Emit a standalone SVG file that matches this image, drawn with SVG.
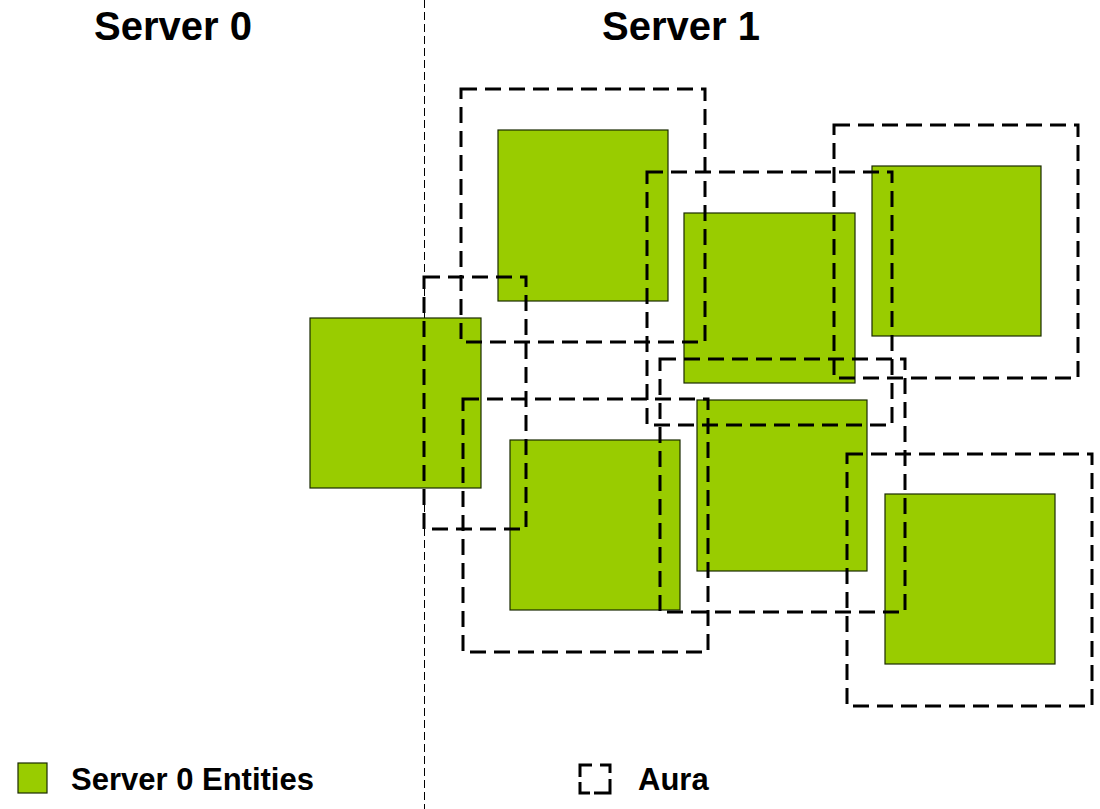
<svg xmlns="http://www.w3.org/2000/svg" width="1100" height="809" viewBox="0 0 1100 809">
<style>
.ent{fill:#99cc00;stroke:#1a2a00;stroke-width:1.2}
.aura{fill:none;stroke:#000;stroke-width:3;stroke-dasharray:16 8}
.title{font-family:"Liberation Sans",Arial,sans-serif;font-weight:bold;font-size:40px;fill:#000;text-anchor:middle}
.leg{font-family:"Liberation Sans",Arial,sans-serif;font-weight:bold;font-size:31px;fill:#000}
.div{stroke:#000;stroke-width:1;stroke-dasharray:8 4;fill:none}
</style>
<rect width="1100" height="809" fill="#fff"/>
<g id="divider"><line class="div" x1="424.5" y1="0" x2="424.5" y2="809"/></g>
<g id="titles">
<text class="title" x="173" y="40">Server 0</text>
<text class="title" x="681" y="40">Server 1</text>
</g>
<g id="entities">
<g id="entity1"><rect class="ent" x="498" y="130" width="170" height="171"/></g>
<g id="entity2"><rect class="ent" x="684" y="213" width="171" height="170"/></g>
<g id="entity3"><rect class="ent" x="872" y="166" width="169" height="170"/></g>
<g id="entity4"><rect class="ent" x="310" y="318" width="171" height="170"/></g>
<g id="entity5"><rect class="ent" x="510" y="440" width="170" height="170"/></g>
<g id="entity6"><rect class="ent" x="697" y="400" width="170" height="171"/></g>
<g id="entity7"><rect class="ent" x="885" y="494" width="170" height="170"/></g>
</g>
<g id="auras">
<g id="aura1"><rect class="aura" x="461" y="89" width="244" height="253"/></g>
<g id="aura4"><rect class="aura" x="424" y="277" width="102" height="252"/></g>
<g id="aura2"><rect class="aura" x="647" y="172" width="245" height="253"/></g>
<g id="aura3"><rect class="aura" x="834" y="125" width="244" height="253"/></g>
<g id="aura5"><rect class="aura" x="463" y="399" width="245" height="253"/></g>
<g id="aura6"><rect class="aura" x="660" y="359" width="245" height="253"/></g>
<g id="aura7"><rect class="aura" x="847" y="454" width="245" height="252"/></g>
</g>
<g id="legend">
<g id="legend-entities">
<rect class="ent" x="18" y="763" width="29" height="30"/>
<text class="leg" x="71" y="790">Server 0 Entities</text>
</g>
<g id="legend-aura">
<path d="M580,777 V765 H592 M600,765 H610 V773 M610,779 V793 H594 M590,793 H580 V782" fill="none" stroke="#000" stroke-width="3"/>
<text class="leg" x="638" y="790">Aura</text>
</g>
</g>
</svg>
